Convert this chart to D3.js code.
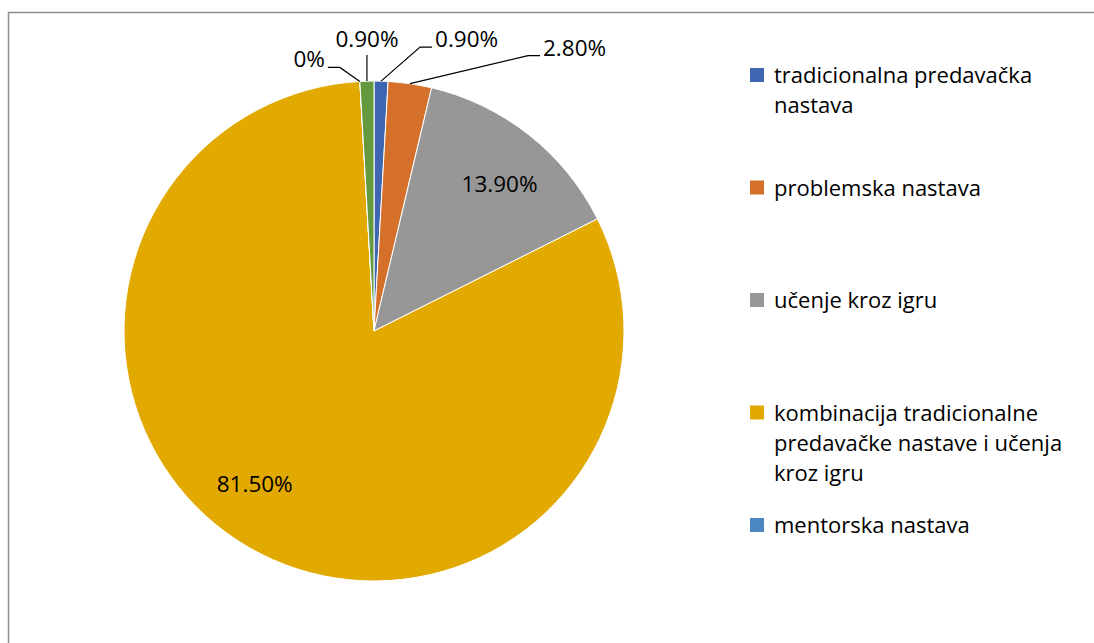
<!DOCTYPE html>
<html>
<head>
<meta charset="utf-8">
<script src="https://cdn.jsdelivr.net/npm/d3@7"></script>
<style>
  html, body { margin: 0; padding: 0; background: #fff; }
  svg { display: block; }
  text { font-family: "Open Sans", "Noto Sans", sans-serif; fill: #000; }
</style>
</head>
<body>
<svg id="chart" width="1094" height="643"></svg>
<script>
// ---- data ----
const categories = [
  "tradicionalna predavačka nastava",
  "problemska nastava",
  "učenje kroz igru",
  "kombinacija tradicionalne predavačke nastave i učenja kroz igru",
  "mentorska nastava",
  "ostalo"
];
const values = [0.9, 2.8, 13.9, 81.5, 0, 0.9];
const valueLabels = ["0.90%", "2.80%", "13.90%", "81.50%", "0%", "0.90%"];
const legendCount = 5; // the sixth entry is not shown in the legend
const colors = ["#3F67B1", "#D5702B", "#979797", "#E2AA00", "#4B87C2", "#65993E"];

// ---- layout ----
const W = 1094, H = 643;
const cx = 374, cy = 331, R = 250;
// label placement per slice: "out" = leader line from arc (offset from arc point), "in" = polar inside
const labelLayout = [
  {type: "out", dx: 54, dy: -34, anchor: "start"},
  {type: "out", dx: 133, dy: -28, anchor: "start"},
  {type: "in", angle: 40.4, rr: 0.775},
  {type: "in", angle: 218, rr: 0.775},
  {type: "out", dx: -35, dy: -14, anchor: "end"},
  {type: "vert", dx: 0, dy: -34, anchor: "middle"}
];

const svg = d3.select("#chart");

// border of chart area
svg.append("path")
  .attr("d", `M8.5,${H + 2} L8.5,12.5 L${W + 2},12.5`)
  .attr("fill", "none")
  .attr("stroke", "#8e8e8e")
  .attr("stroke-width", 1.5);

const data = categories.map((c, i) => ({name: c, value: values[i], label: valueLabels[i], color: colors[i], i}));

const pie = d3.pie().value(d => d.value).sort(null).startAngle(0).endAngle(2 * Math.PI);
const arcs = pie(data);
const arc = d3.arc().innerRadius(0).outerRadius(R);

const g = svg.append("g").attr("transform", `translate(${cx},${cy})`);

g.selectAll("path.slice")
  .data(arcs)
  .join("path")
  .attr("class", "slice")
  .attr("d", arc)
  .attr("fill", d => d.data.color)
  .attr("stroke", "#fff")
  .attr("stroke-width", 1);

// labels
const fs = 22.5;
arcs.forEach((a, i) => {
  const L = labelLayout[i];
  const mid = (a.startAngle + a.endAngle) / 2;
  const px = R * Math.sin(mid), py = -R * Math.cos(mid);
  if (L.type === "in") {
    const ang = L.angle * Math.PI / 180;
    g.append("text")
      .attr("x", R * L.rr * Math.sin(ang))
      .attr("y", -R * L.rr * Math.cos(ang))
      .attr("text-anchor", "middle")
      .attr("dominant-baseline", "central")
      .attr("font-size", fs)
      .text(a.data.label);
  } else if (L.type === "vert") {
    const tx = px + L.dx, ty = py + L.dy;
    g.append("path")
      .attr("d", `M${px},${py} L${tx},${ty + 8}`)
      .attr("stroke", "#000").attr("stroke-width", 1.2).attr("fill", "none");
    g.append("text")
      .attr("x", tx).attr("y", ty)
      .attr("text-anchor", L.anchor)
      .attr("font-size", fs)
      .text(a.data.label);
  } else {
    const tx = px + L.dx, ty = py + L.dy;
    const s = L.anchor === "start" ? 1 : -1;
    g.append("path")
      .attr("d", `M${px},${py} L${tx - s * 15},${ty} L${tx - s * 3},${ty}`)
      .attr("stroke", "#000").attr("stroke-width", 1.2).attr("fill", "none");
    g.append("text")
      .attr("x", tx).attr("y", ty)
      .attr("text-anchor", L.anchor)
      .attr("font-size", fs)
      .text(a.data.label);
  }
});

// legend
const legendData = data.slice(0, legendCount);
const ly = d3.scalePoint().domain(legendData.map(d => d.name)).range([83, 533]);
const lfs = 22, lineH = 30, maxW = 312;
const legend = svg.append("g");
legendData.forEach(d => {
  const y0 = ly(d.name);
  legend.append("rect")
    .attr("x", 750).attr("y", y0 - 15)
    .attr("width", 14).attr("height", 14)
    .attr("fill", d.color);
  const t = legend.append("text")
    .attr("x", 774).attr("y", y0)
    .attr("font-size", lfs);
  const words = d.name.split(" ");
  let line = [], lineNo = 0;
  let ts = t.append("tspan").attr("x", 774).attr("y", y0);
  words.forEach(w => {
    line.push(w);
    ts.text(line.join(" "));
    if (ts.node().getComputedTextLength() > maxW && line.length > 1) {
      line.pop();
      ts.text(line.join(" "));
      line = [w];
      lineNo++;
      ts = t.append("tspan").attr("x", 774).attr("y", y0 + lineNo * lineH).text(w);
    }
  });
});
</script>
</body>
</html>
